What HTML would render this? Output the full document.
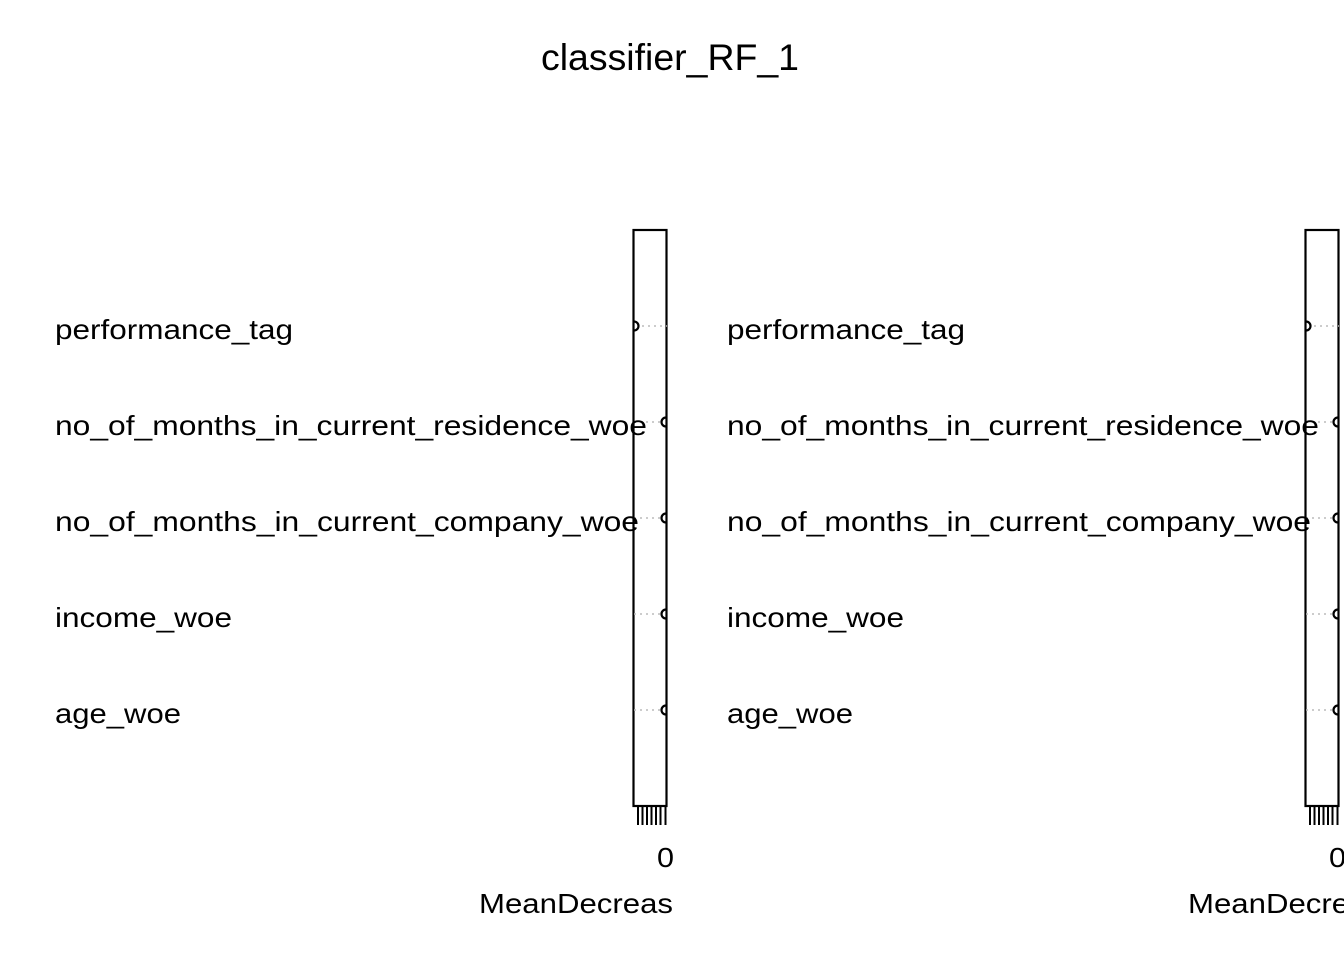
<!DOCTYPE html>
<html><head><meta charset="utf-8"><style>
html,body{margin:0;padding:0;background:#fff;}
svg{display:block;}
text{font-family:"Liberation Sans",Arial,sans-serif;fill:#000;}
</style></head><body>
<svg width="1344" height="960" viewBox="0 0 1344 960" xmlns="http://www.w3.org/2000/svg">
<text x="670" y="70" font-size="37" text-anchor="middle" textLength="258" lengthAdjust="spacingAndGlyphs">classifier_RF_1</text>
<g id="p">
  <rect x="633.5" y="230" width="33" height="576" fill="none" stroke="#000" stroke-width="2.2"/>
  <g stroke="#bbb" stroke-width="1.4" stroke-dasharray="2,4">
    <line x1="642" y1="326" x2="667" y2="326"/>
    <line x1="634" y1="422" x2="660" y2="422"/>
    <line x1="634" y1="518" x2="660" y2="518"/>
    <line x1="634" y1="614" x2="660" y2="614"/>
    <line x1="634" y1="710" x2="660" y2="710"/>
  </g>
  <g fill="none" stroke="#000" stroke-width="2.2">
    <path d="M634 321.5 A4.5 4.5 0 1 1 634 330.5"/>
    <path d="M666 417.5 A4.5 4.5 0 1 0 666 426.5"/>
    <path d="M666 513.5 A4.5 4.5 0 1 0 666 522.5"/>
    <path d="M666 609.5 A4.5 4.5 0 1 0 666 618.5"/>
    <path d="M666 705.5 A4.5 4.5 0 1 0 666 714.5"/>
  </g>
  <g stroke="#000" stroke-width="2">
    <line x1="638" y1="806" x2="638" y2="825"/>
    <line x1="642.5" y1="806" x2="642.5" y2="825"/>
    <line x1="647" y1="806" x2="647" y2="825"/>
    <line x1="651.5" y1="806" x2="651.5" y2="825"/>
    <line x1="656" y1="806" x2="656" y2="825"/>
    <line x1="660.5" y1="806" x2="660.5" y2="825"/>
    <line x1="665.5" y1="806" x2="665.5" y2="825"/>
  </g>
  <g font-size="28">
    <text x="55" y="339" textLength="238" lengthAdjust="spacingAndGlyphs">performance_tag</text>
    <text x="55" y="435" textLength="592" lengthAdjust="spacingAndGlyphs">no_of_months_in_current_residence_woe</text>
    <text x="55" y="531" textLength="584" lengthAdjust="spacingAndGlyphs">no_of_months_in_current_company_woe</text>
    <text x="55" y="627" textLength="177" lengthAdjust="spacingAndGlyphs">income_woe</text>
    <text x="55" y="723" textLength="126" lengthAdjust="spacingAndGlyphs">age_woe</text>
    <text x="657" y="867" textLength="17" lengthAdjust="spacingAndGlyphs">0</text>
  </g>
</g>
<use href="#p" x="672" y="0"/>
<text x="479" y="913" font-size="28" textLength="194" lengthAdjust="spacingAndGlyphs">MeanDecreas</text>
<text x="1188" y="913" font-size="28" textLength="194" lengthAdjust="spacingAndGlyphs">MeanDecreas</text>
</svg>
</body></html>
